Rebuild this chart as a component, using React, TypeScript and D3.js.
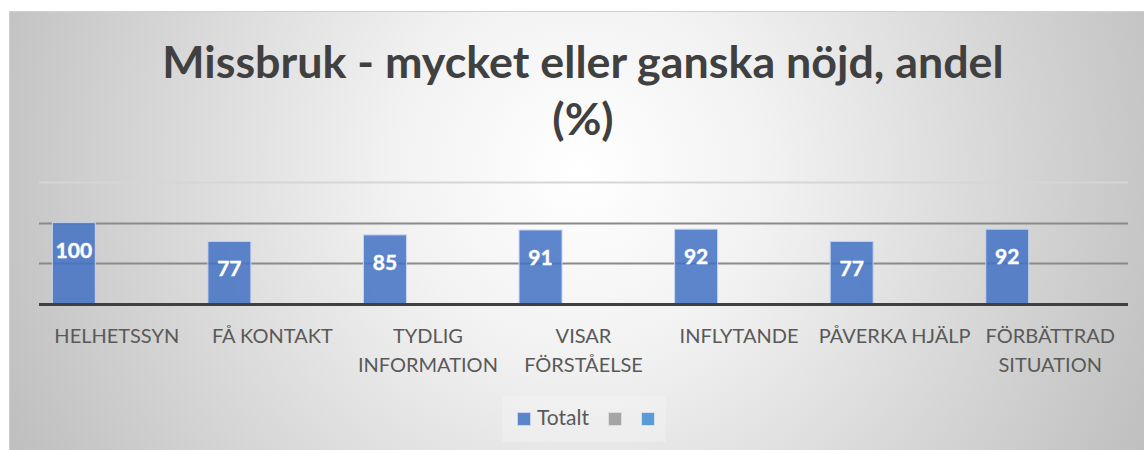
import React from "react";
import * as d3 from "d3";

// chart data
const categories = [
  "HELHETSSYN",
  "FÅ KONTAKT",
  "TYDLIG INFORMATION",
  "VISAR FÖRSTÅELSE",
  "INFLYTANDE",
  "PÅVERKA HJÄLP",
  "FÖRBÄTTRAD SITUATION",
];
const seriesNames = ["Totalt", "", ""];
const totalt = [100, 77, 85, 91, 92, 77, 92];
const seriesColors = ["#4472C4", "#A5A5A5", "#5B9BD5"];
const yTicks = [0, 50, 100, 150];

const W = 1144;
const H = 450;
const FONT = "Lato, 'Open Sans', sans-serif";

// split a label in two lines if it is too long for the band
const wrapLabel = (label: string, maxChars: number) => {
  if (label.length <= maxChars) return [label];
  const words = label.split(" ");
  const lines: string[] = [];
  let cur = "";
  words.forEach((w) => {
    const next = cur ? cur + " " + w : w;
    if (next.length > maxChars && cur) {
      lines.push(cur);
      cur = w;
    } else cur = next;
  });
  if (cur) lines.push(cur);
  return lines;
};

const App = () => {
  const margin = { left: 39, right: 16, top: 182, bottom: 146 };
  const x = d3
    .scaleBand<string>()
    .domain(categories)
    .range([margin.left, W - margin.right])
    .paddingInner(0)
    .paddingOuter(0);
  const xs = d3
    .scaleBand<number>()
    .domain(d3.range(seriesNames.length))
    .range([0, x.bandwidth()])
    .paddingInner(0)
    .paddingOuter(0.31);
  const y = d3
    .scaleLinear()
    .domain([0, 150])
    .range([H - margin.bottom, margin.top]);

  const legendX = 502;
  const legendY = 396;

  return (
    <svg
      width={W}
      height={H}
      style={{ position: "absolute", left: 0, top: 0, fontFamily: FONT }}
    >
      <defs>
        <radialGradient
          id="bg"
          gradientUnits="userSpaceOnUse"
          cx={580}
          cy={170}
          r={620}
        >
          <stop offset="0" stopColor="#ffffff" />
          <stop offset="0.3" stopColor="#f2f2f2" />
          <stop offset="1" stopColor="#c0c0c0" />
        </radialGradient>
      </defs>
      <rect x={9.5} y={11.5} width={1140} height={445} fill="url(#bg)" stroke="#cfcfcf" />

      {/* title */}
      <text x={583} y={78} textAnchor="middle" fontSize={44.8} fontWeight="bold" fill="#404040">
        Missbruk - mycket eller ganska nöjd, andel
      </text>
      <text x={583} y={135} textAnchor="middle" fontSize={44.8} fontWeight="bold" fill="#404040">
        (%)
      </text>

      {/* gridlines */}
      {yTicks.slice(1).map((t) => (
        <line
          key={t}
          x1={margin.left}
          x2={W - margin.right}
          y1={Math.round(y(t)) + 0.5}
          y2={Math.round(y(t)) + 0.5}
          stroke={t === 150 ? "#d6d6d6" : "#8a8a8a"}
          strokeWidth={2}
        />
      ))}

      {/* bars */}
      {categories.map((c, i) => {
        const bx = (x(c) ?? 0) + (xs(0) ?? 0);
        const top = y(totalt[i]);
        return (
          <g key={c}>
            <rect
              x={bx}
              y={top}
              width={xs.bandwidth()}
              height={y(0) - top}
              fill={seriesColors[0]}
              fillOpacity={0.86}
              stroke="#c9d5ee"
              strokeWidth={1}
            />
            <text
              x={bx + xs.bandwidth() / 2}
              y={top + 35}
              textAnchor="middle"
              fontSize={21}
              fontWeight="bold"
              fill="#ffffff"
              stroke="#ffffff"
              strokeWidth={0.4}
            >
              {totalt[i]}
            </text>
          </g>
        );
      })}

      {/* x axis */}
      <line
        x1={margin.left}
        x2={W - margin.right}
        y1={y(0) + 0.5}
        y2={y(0) + 0.5}
        stroke="#404040"
        strokeWidth={3}
      />
      {categories.map((c) => {
        const lines = wrapLabel(c, 14);
        const cx = (x(c) ?? 0) + x.bandwidth() / 2;
        return (
          <text key={c} x={cx} y={343} textAnchor="middle" fontSize={20} fill="#595959">
            {lines.map((l, k) => (
              <tspan key={k} x={cx} dy={k === 0 ? 0 : 29}>
                {l}
              </tspan>
            ))}
          </text>
        );
      })}

      {/* legend */}
      <rect x={legendX} y={legendY} width={164} height={46} fill="#ffffff" fillOpacity={0.22} />
      <rect x={legendX + 15.5} y={legendY + 16.5} width={13} height={13} fill={seriesColors[0]} fillOpacity={0.86} stroke="#c9d5ee" />
      <text x={legendX + 35} y={legendY + 29} fontSize={21} fill="#595959">
        {seriesNames[0]}
      </text>
      <rect x={legendX + 106.5} y={legendY + 16.5} width={13} height={13} fill={seriesColors[1]} stroke="#dcdcdc" />
      <rect x={legendX + 139.5} y={legendY + 16.5} width={13} height={13} fill={seriesColors[2]} stroke="#cfe0f0" />
    </svg>
  );
};

export default App;
